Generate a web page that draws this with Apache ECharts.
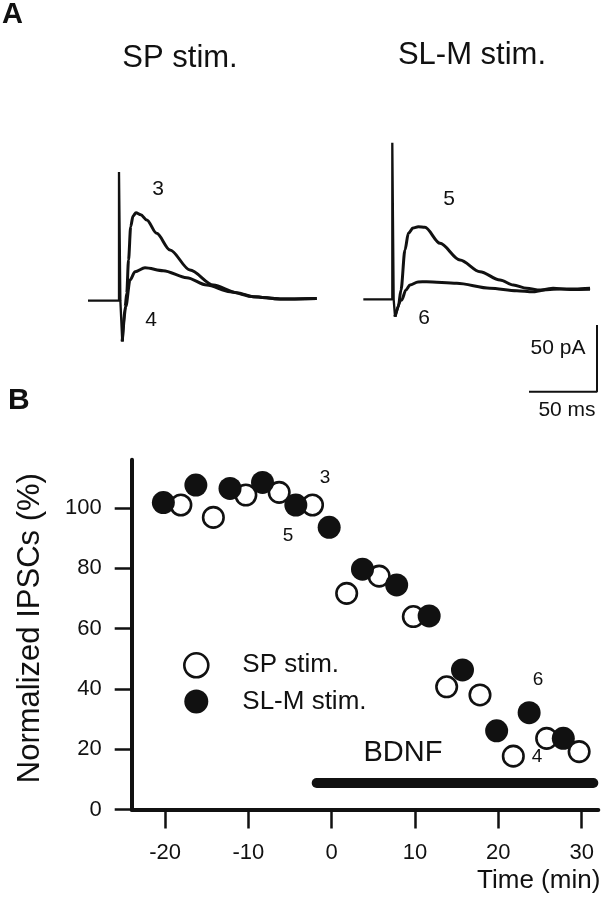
<!DOCTYPE html>
<html>
<head>
<meta charset="utf-8">
<script src="https://cdn.jsdelivr.net/npm/echarts@6/dist/echarts.min.js"></script>
<style>
  html, body { margin: 0; padding: 0; background: #fff; }
  #chart { width: 608px; height: 899px; }
</style>
</head>
<body>
<div id="chart"></div>
<script>
// ---------- Panel B data ----------
// SP stim. (open circles): time (min), normalized IPSC (%)
const spTime   = [-18.1, -14.2, -10.3, -6.3, -2.3, 1.8, 5.7, 9.8, 13.8, 17.8, 21.8, 25.8, 29.7];
const spValues = [101, 96.9, 104.3, 105.2, 101, 71.7, 77.4, 64, 40.7, 38, 17.7, 23.6, 19.2];
// SL-M stim. (filled circles)
const slmTime   = [-20.2, -16.3, -12.2, -8.3, -4.3, -0.3, 3.7, 7.8, 11.7, 15.7, 19.8, 23.7, 27.8];
const slmValues = [101.8, 107.6, 106.5, 108.5, 101, 93.6, 79.7, 74.5, 64.2, 46.3, 26.1, 32.1, 23.6];
// BDNF application period (min) and the level at which the bar is drawn (%)
const bdnfPeriod = [-1.8, 31.4];
const bdnfLevel = 8.8;
const yTicks = [0, 20, 40, 60, 80, 100];
const xTicks = [-20, -10, 0, 10, 20, 30];

// ---------- Panel A data (time in ms, current in pA) ----------
// stimulus artifacts
const artSPTime    = [-22.8, 0, 0, 1.0, 2.4];
const artSPCurrent = [-0.5, -0.5, 96, -0.5, -31];
const artSLMTime    = [-21.3, 0, 0, 1.0, 2.0];
const artSLMCurrent = [0.5, 0.5, 118, 0.5, -12.5];
// trace 3 (SP, before BDNF)
const trace3Time    = [2.4, 4.5, 5.7, 7, 8.6, 10.3, 12.5, 16, 20.4, 27.7, 37.5, 52.2, 69.4, 86.5, 98.8, 118.4, 145.4];
const trace3Current = [-31, -5, 5, 30, 55, 63, 65.5, 64, 60, 50, 37.5, 22.5, 11.2, 5.5, 2.5, 0.75, 1.2];
// trace 4 (SP, during BDNF)
const trace4Time    = [2.4, 5, 8.1, 11.8, 19.1, 32.6, 49.8, 64.5, 81.6, 98.8, 118.4, 145.4];
const trace4Current = [-31, -5, 15, 21.2, 24.2, 22, 16.7, 11.2, 6.2, 2.5, 0.75, 1.2];
// trace 5 (SL-M, before BDNF)
const trace5Time    = [2, 4.4, 6.4, 9.3, 11.8, 15.2, 19.1, 24, 35.1, 49.8, 64.5, 79.2, 89, 98.8, 108.6, 123.3, 134.3, 145.4];
const trace5Current = [-12.5, -5, 7.5, 37.5, 50, 54, 55, 54.5, 42.5, 30, 21.2, 15, 11.2, 8.8, 7.5, 8.2, 8.2, 8.8];
// trace 6 (SL-M, during BDNF)
const trace6Time    = [2, 6.9, 10, 13, 18.9, 25.3, 47.4, 71.8, 91.5, 103.5, 118.2, 130.7, 145.4];
const trace6Current = [-12.5, 0, 7.5, 11.2, 13.5, 13.7, 12.5, 8.8, 7, 6.2, 8.8, 7.9, 8];
// scale bar: 50 ms x 50 pA, corner position in data units of the right trace panel
const scaleBarMs = 50;
const scaleBarPa = 50;
const scaleBarCorner = [150.5, -68.8];

const FONT = 'Liberation Sans, Arial, Helvetica, sans-serif';
const INK = '#111';

function zip(a, b) { return a.map((v, i) => [v, b[i]]); }

const chart = echarts.init(document.getElementById('chart'), null, { renderer: 'canvas' });

function txt(text, x, y, size, opts) {
  opts = opts || {};
  return {
    type: 'text', x: x, y: y, silent: true,
    style: {
      text: text, fill: INK,
      font: (opts.bold ? 'bold ' : '') + size + 'px ' + FONT,
      align: opts.align || 'center', verticalAlign: opts.va || 'middle'
    }
  };
}

const traceLine = { color: INK, width: 3 };
const hiddenAxis = { show: false };

const option = {
  animation: false,
  backgroundColor: '#fff',
  textStyle: { fontFamily: FONT, color: INK },
  grid: [
    // panel A, SP traces
    { left: 78.2, top: 126.67, width: 244.8, height: 280, outerBoundsMode: 'none' },
    // panel A, SL-M traces
    { left: 351.5, top: 126.67, width: 251.6, height: 280, outerBoundsMode: 'none' },
    // panel B
    { left: 131.7, top: 459.8, width: 466.6, height: 349.7, outerBoundsMode: 'none' }
  ],
  xAxis: [
    Object.assign({ type: 'value', gridIndex: 0, min: -30, max: 150 }, hiddenAxis),
    Object.assign({ type: 'value', gridIndex: 1, min: -30, max: 155 }, hiddenAxis),
    {
      type: 'value', gridIndex: 2, min: -24, max: 32,
      splitLine: { show: false },
      axisLine: { show: true, onZero: false, lineStyle: { color: INK, width: 4, cap: 'round' } },
      axisTick: { show: true, length: 19, customValues: xTicks, lineStyle: { color: INK, width: 2.5 } },
      axisLabel: { customValues: xTicks, margin: 32, fontSize: 22, color: INK, fontFamily: FONT },
      name: 'Time (min)', nameLocation: 'end', nameGap: 2,
      nameTextStyle: { fontSize: 26, color: INK, fontFamily: FONT, align: 'right', verticalAlign: 'top', padding: [58, 0, 0, 0] }
    }
  ],
  yAxis: [
    Object.assign({ type: 'value', gridIndex: 0, min: -80, max: 130 }, hiddenAxis),
    Object.assign({ type: 'value', gridIndex: 1, min: -80, max: 130 }, hiddenAxis),
    {
      type: 'value', gridIndex: 2, min: 0, max: 116,
      splitLine: { show: false },
      axisLine: { show: true, onZero: false, lineStyle: { color: INK, width: 4, cap: 'round' } },
      axisTick: { show: true, length: 17, customValues: yTicks, lineStyle: { color: INK, width: 2.5 } },
      axisLabel: { customValues: yTicks, margin: 30, fontSize: 22, color: INK, fontFamily: FONT },
      name: 'Normalized IPSCs (%)', nameLocation: 'middle', nameGap: 86, nameRotate: 90,
      nameTextStyle: { fontSize: 31, color: INK, fontFamily: FONT, padding: [0, 0, 0, 13] }
    }
  ],
  legend: {
    orient: 'vertical', left: 178, top: 647,
    itemWidth: 82, itemHeight: 24, itemGap: 10,
    selectedMode: false,
    textStyle: { fontSize: 26, color: INK, fontFamily: FONT },
    data: [
      { name: 'SP stim.', icon: 'circle', itemStyle: { color: '#fff', borderColor: INK, borderWidth: 2.6 } },
      { name: 'SL-M stim.', icon: 'circle', itemStyle: { color: INK, borderColor: INK, borderWidth: 0 } }
    ]
  },
  series: [
    // ----- panel A -----
    { type: 'line', xAxisIndex: 0, yAxisIndex: 0, data: zip(artSPTime, artSPCurrent), showSymbol: false, lineStyle: { color: INK, width: 2.3 }, silent: true },
    { type: 'line', xAxisIndex: 0, yAxisIndex: 0, data: zip(trace3Time, trace3Current), showSymbol: false, smooth: 0.3, smoothMonotone: 'x', lineStyle: traceLine, silent: true },
    { type: 'line', xAxisIndex: 0, yAxisIndex: 0, data: zip(trace4Time, trace4Current), showSymbol: false, smooth: 0.3, smoothMonotone: 'x', lineStyle: traceLine, silent: true },
    { type: 'line', xAxisIndex: 1, yAxisIndex: 1, data: zip(artSLMTime, artSLMCurrent), showSymbol: false, lineStyle: { color: INK, width: 2.3 }, silent: true },
    { type: 'line', xAxisIndex: 1, yAxisIndex: 1, data: zip(trace5Time, trace5Current), showSymbol: false, smooth: 0.3, smoothMonotone: 'x', lineStyle: traceLine, silent: true },
    { type: 'line', xAxisIndex: 1, yAxisIndex: 1, data: zip(trace6Time, trace6Current), showSymbol: false, smooth: 0.3, smoothMonotone: 'x', lineStyle: traceLine, silent: true },
    // scale bar
    { type: 'line', xAxisIndex: 1, yAxisIndex: 1, showSymbol: false, silent: true,
      data: [
        [scaleBarCorner[0] - scaleBarMs, scaleBarCorner[1]],
        [scaleBarCorner[0], scaleBarCorner[1]],
        [scaleBarCorner[0], scaleBarCorner[1] + scaleBarPa]
      ],
      lineStyle: { color: INK, width: 2 } },
    // ----- panel B -----
    { type: 'line', xAxisIndex: 2, yAxisIndex: 2, showSymbol: false, silent: true,
      data: [[bdnfPeriod[0], bdnfLevel], [bdnfPeriod[1], bdnfLevel]],
      lineStyle: { color: INK, width: 10, cap: 'round' } },
    { name: 'SP stim.', type: 'scatter', xAxisIndex: 2, yAxisIndex: 2, data: zip(spTime, spValues),
      symbol: 'circle', symbolSize: 20.5, z: 3,
      itemStyle: { color: '#fff', borderColor: INK, borderWidth: 2.6, opacity: 1 } },
    { name: 'SL-M stim.', type: 'scatter', xAxisIndex: 2, yAxisIndex: 2, data: zip(slmTime, slmValues),
      symbol: 'circle', symbolSize: 23, z: 4,
      itemStyle: { color: INK, opacity: 1 } }
  ],
  graphic: [
    txt('A', 2, 15, 29, { bold: true, align: 'left' }),
    txt('B', 8, 401, 30, { bold: true, align: 'left' }),
    txt('SP stim.', 180, 58, 31),
    txt('SL-M stim.', 472, 55, 31),
    txt('3', 158, 189, 21),
    txt('4', 151, 320, 21),
    txt('5', 449, 199, 21),
    txt('6', 424, 318, 21),
    txt('50 pA', 558, 348, 21),
    txt('50 ms', 567, 410, 21),
    txt('3', 325, 478, 19),
    txt('5', 288, 536, 19),
    txt('6', 538, 680, 19),
    txt('4', 537, 757, 19),
    txt('BDNF', 403, 753, 29)
  ]
};

chart.setOption(option);
</script>
</body>
</html>
